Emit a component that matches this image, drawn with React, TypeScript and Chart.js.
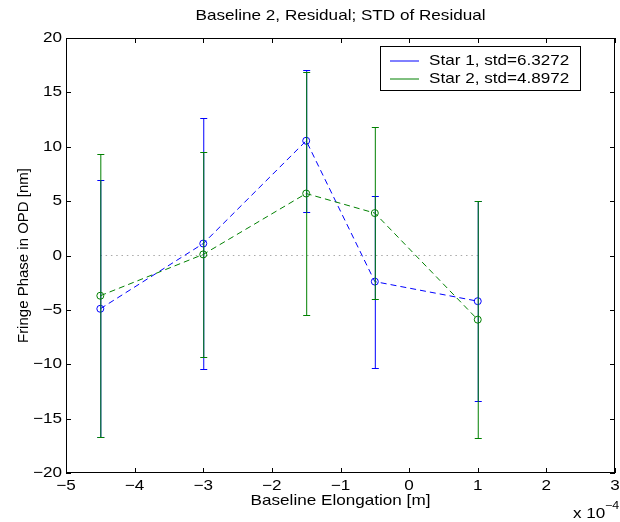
import React, { useEffect, useRef } from "react";
import { Chart, registerables } from "chart.js";

Chart.register(...registerables);

// x positions in units of 1e-4 m
const xValues = [-4.5, -3, -1.5, -0.5, 1];
const star1Values = [-4.9, 1.1, 10.55, -2.4, -4.2];
const star1Errors = [11.8, 11.5, 6.55, 7.9, 9.2];
const star2Values = [-3.7, 0.1, 5.7, 3.9, -5.9];
const star2Errors = [13.0, 9.4, 11.2, 7.9, 10.9];
const zeroLineX = [-4.5, 1];
const xTicks = [-5, -4, -3, -2, -1, 0, 1, 2, 3];
const yTicks = [-20, -15, -10, -5, 0, 5, 10, 15, 20];
const legendLabels = ["Star 1, std=6.3272", "Star 2, std=4.8972"];
const titleText = "Baseline 2, Residual; STD of Residual";
const xLabelText = "Baseline Elongation [m]";
const yLabelText = "Fringe Phase in OPD [nm]";

const FONT = '"Liberation Sans", Arial, Helvetica, sans-serif';
const FS = 14.5;
const SX = 1.18;
const BLUE = "#0000ff";
const GREEN = "#008000";

const fmt = (v: number) => (v < 0 ? "\u2212" + Math.abs(v) : String(v));

function txt(ctx: any, s: string, x: number, y: number, align: string, baseline: string, size = FS) {
  ctx.save();
  ctx.translate(x, y);
  ctx.scale(SX, 1);
  ctx.font = `${size}px ${FONT}`;
  ctx.textAlign = align;
  ctx.textBaseline = baseline;
  ctx.fillText(s, 0, 0);
  ctx.restore();
}

const errorBarPlugin = {
  id: "errorBars",
  beforeDatasetDraw(chart: any, args: any) {
    const ds = chart.data.datasets[args.index];
    if (!ds.errors) return;
    const ctx = chart.ctx;
    const xs = chart.scales.x;
    const ys = chart.scales.y;
    ctx.save();
    ctx.strokeStyle = ds.borderColor;
    ctx.lineWidth = 1;
    ctx.setLineDash([]);
    ds.data.forEach((p: any, i: number) => {
      const e = ds.errors[i];
      const px = xs.getPixelForValue(p.x) + 0.5;
      const top = Math.round(ys.getPixelForValue(p.y + e)) + 0.5;
      const bot = Math.round(ys.getPixelForValue(p.y - e)) + 0.5;
      ctx.beginPath();
      ctx.moveTo(px, top);
      ctx.lineTo(px, bot);
      ctx.moveTo(px - 3.5, top);
      ctx.lineTo(px + 3.5, top);
      ctx.moveTo(px - 3.5, bot);
      ctx.lineTo(px + 3.5, bot);
      ctx.stroke();
    });
    ctx.restore();
  },
};

const framePlugin = {
  id: "frame",
  afterDraw(chart: any) {
    const ctx = chart.ctx;
    const { left, right, top, bottom } = chart.chartArea;
    const xs = chart.scales.x;
    const ys = chart.scales.y;
    ctx.save();
    ctx.strokeStyle = "#000";
    ctx.lineWidth = 1;
    ctx.setLineDash([]);
    ctx.strokeRect(left + 0.5, top + 0.5, right - left - 1, bottom - top - 1);
    ctx.beginPath();
    xTicks.forEach((t) => {
      const px = Math.round(xs.getPixelForValue(t)) + 0.5;
      ctx.moveTo(px, bottom);
      ctx.lineTo(px, bottom - 5);
      ctx.moveTo(px, top);
      ctx.lineTo(px, top + 5);
    });
    yTicks.forEach((t) => {
      const py = Math.round(ys.getPixelForValue(t)) + 0.5;
      ctx.moveTo(left, py);
      ctx.lineTo(left + 5, py);
      ctx.moveTo(right, py);
      ctx.lineTo(right - 5, py);
    });
    ctx.stroke();

    ctx.fillStyle = "#000";
    xTicks.forEach((t) => {
      txt(ctx, fmt(t), xs.getPixelForValue(t), bottom + 6, "center", "top");
    });
    yTicks.forEach((t) => {
      txt(ctx, fmt(t), left - 4, ys.getPixelForValue(t), "right", "middle");
    });

    txt(ctx, titleText, (left + right) / 2, 16, "center", "middle");
    txt(ctx, xLabelText, (left + right) / 2, 501, "center", "middle");
    txt(ctx, "x 10", 573, 518, "left", "alphabetic");
    txt(ctx, "\u22124", 605, 509, "left", "alphabetic", 10.5);

    // y label
    ctx.save();
    ctx.translate(24, (top + bottom) / 2);
    ctx.rotate(-Math.PI / 2);
    ctx.font = `15px ${FONT}`;
    ctx.textAlign = "center";
    ctx.textBaseline = "middle";
    ctx.fillText(yLabelText, 0, 0);
    ctx.restore();

    // legend
    const lx = 380, ly = 46, lw = 200, lh = 44;
    ctx.fillStyle = "#fff";
    ctx.fillRect(lx, ly, lw, lh);
    ctx.strokeStyle = "#000";
    ctx.lineWidth = 1;
    ctx.strokeRect(lx + 0.5, ly + 0.5, lw, lh);
    const colors = [BLUE, GREEN];
    const rows = [61, 79];
    legendLabels.forEach((lab, i) => {
      ctx.strokeStyle = colors[i];
      ctx.beginPath();
      ctx.moveTo(390, rows[i]);
      ctx.lineTo(419, rows[i]);
      ctx.stroke();
      ctx.fillStyle = "#000";
      txt(ctx, lab, 429, rows[i], "left", "middle");
    });
    ctx.restore();
  },
};

export default function App() {
  const ref = useRef<HTMLCanvasElement | null>(null);
  useEffect(() => {
    if (!ref.current) return;
    const chart = new Chart(ref.current, {
      type: "line",
      data: {
        datasets: [
          {
            label: "zero",
            data: zeroLineX.map((x) => ({ x, y: 0 })),
            borderColor: "#a8a8a8",
            borderWidth: 1,
            borderDash: [1.5, 3.8],
            pointRadius: 0,
            order: 3,
          },
          {
            label: legendLabels[0],
            data: xValues.map((x, i) => ({ x, y: star1Values[i] })),
            errors: star1Errors,
            borderColor: BLUE,
            borderWidth: 1,
            borderDash: [6, 4],
            pointRadius: 3.5,
            pointStyle: "circle",
            pointBorderColor: BLUE,
            pointBackgroundColor: "rgba(0,0,0,0)",
            pointBorderWidth: 1,
            order: 2,
          } as any,
          {
            label: legendLabels[1],
            data: xValues.map((x, i) => ({ x, y: star2Values[i] })),
            errors: star2Errors,
            borderColor: GREEN,
            borderWidth: 1,
            borderDash: [6, 4],
            pointRadius: 3.5,
            pointStyle: "circle",
            pointBorderColor: GREEN,
            pointBackgroundColor: "rgba(0,0,0,0)",
            pointBorderWidth: 1,
            order: 1,
          } as any,
        ],
      },
      options: {
        responsive: false,
        animation: false,
        layout: { padding: { left: 66, right: 2, top: 38, bottom: 49 } },
        scales: {
          x: { type: "linear", min: -5, max: 3, display: false },
          y: { type: "linear", min: -20, max: 20, display: false },
        },
        plugins: {
          legend: { display: false },
          tooltip: { enabled: false },
          title: { display: false },
        },
      },
      plugins: [errorBarPlugin, framePlugin],
    });
    return () => chart.destroy();
  }, []);
  return (
    <div style={{ position: "absolute", left: 0, top: 0, width: 620, height: 522, background: "#fff" }}>
      <canvas ref={ref} width={620} height={522} style={{ display: "block" }} />
    </div>
  );
}
